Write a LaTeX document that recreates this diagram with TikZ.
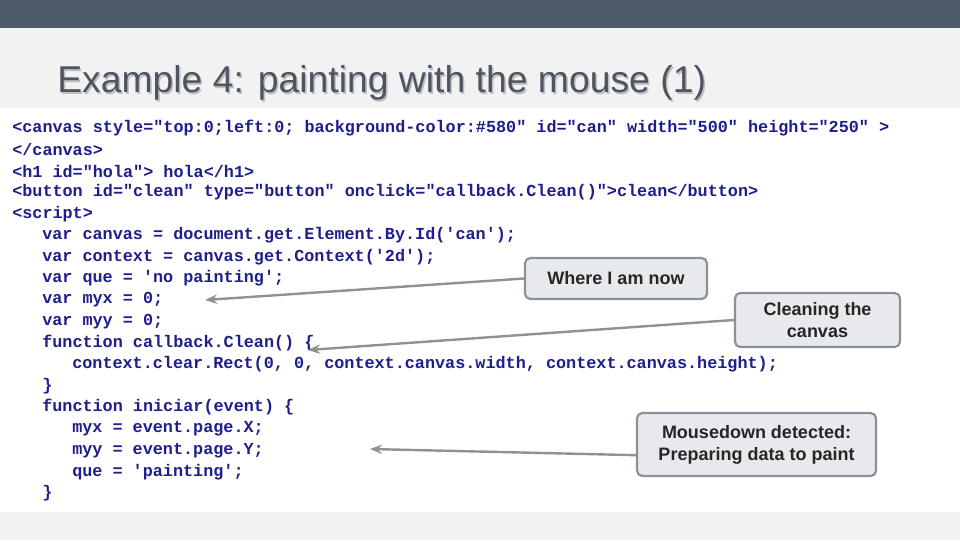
\documentclass[tikz,border=0pt]{standalone}
\usepackage{fontspec}
\setmainfont{Liberation Sans}
\newfontfamily\codefont{Liberation Mono}
\usetikzlibrary{arrows.meta}
\definecolor{barc}{HTML}{4D5A6A}
\definecolor{bgc}{HTML}{F2F2F2}
\definecolor{codec}{HTML}{1E1E8C}
\definecolor{titc}{HTML}{4D5560}
\definecolor{boxf}{HTML}{E8E9EC}
\definecolor{boxd}{HTML}{8A9099}
\definecolor{arrc}{HTML}{8C948C}
\tikzset{
  code/.style={anchor=west,inner sep=0pt,text=codec,font=\codefont\bfseries\fontsize{12.6pt}{15pt}\selectfont},
  callout/.style={draw=boxd,line width=1.6pt,fill=boxf,rounded corners=4pt,align=center,font=\bfseries\fontsize{13.5pt}{16.5pt}\selectfont,text=black!85,inner sep=0pt},
  pointer/.style={draw=arrc,line width=1.8pt,-{Stealth[length=9pt,width=7pt]}}
}
\begin{document}
\begin{tikzpicture}[x=0.75pt,y=-0.75pt]
\useasboundingbox (0,0) rectangle (960,540);
\fill[bgc] (0,0) rectangle (960,540);
\fill[barc] (0,0) rectangle (960,28);
\fill[white] (0,108) rectangle (960,512);
\node[anchor=west,inner sep=0pt,text=black!25,font=\fontsize{28pt}{32pt}\selectfont] at (58.5,84.5) {Example 4: painting with the mouse (1)};
\node[anchor=west,inner sep=0pt,text=titc,font=\fontsize{28pt}{32pt}\selectfont] (title) at (57,83) {Example 4: painting with the mouse (1)};
\node[code] (l1) at (12,128) {<canvas style="top:0;left:0; background-color:\#580" id="can" width="500" height="250" >};
\node[code] (l2) at (12,149.5) {</canvas>};
\node[code] (l3) at (12,171) {<h1 id="hola"> hola</h1>};
\node[code] (l4) at (12,192.5) {<button id="clean" type="button" onclick="callback.Clean()">clean</button>};
\node[code] (l5) at (12,214) {<script>};
\node[code] (l6) at (42,235.5) {var canvas = document.get.Element.By.Id('can');};
\node[code] (l7) at (42,257) {var context = canvas.get.Context('2d');};
\node[code] (l8) at (42,278.5) {var que = 'no painting';};
\node[code] (l9) at (42,300) {var myx = 0;};
\node[code] (l10) at (42,321.5) {var myy = 0;};
\node[code] (l11) at (42,343) {function callback.Clean() \{};
\node[code] (l12) at (72,364.5) {context.clear.Rect(0, 0, context.canvas.width, context.canvas.height);};
\node[code] (l13) at (42,386) {\}};
\node[code] (l14) at (42,407.5) {function iniciar(event) \{};
\node[code] (l15) at (72,429) {myx = event.page.X;};
\node[code] (l16) at (72,450.5) {myy = event.page.Y;};
\node[code] (l17) at (72,472) {que = 'painting';};
\node[code] (l18) at (42,493.5) {\}};
\node[callout,minimum width=182*0.75pt,minimum height=41*0.75pt] (b1) at (616,278.5) {Where I am now};
\node[callout,minimum width=165*0.75pt,minimum height=54*0.75pt] (b2) at (817.5,320) {Cleaning the\\canvas};
\node[callout,minimum width=239*0.75pt,minimum height=63*0.75pt] (b3) at (756.5,444.5) {Mousedown detected:\\Preparing data to paint};
\coordinate (t1) at (205,300);
\coordinate (t2) at (308,350);
\coordinate (t3) at (370,449);
\draw[pointer] (b1.west) -- (t1);
\draw[pointer] (b2.west) -- (t2);
\draw[pointer] ([yshift=-8pt]b3.west) -- (t3);
\end{tikzpicture}
\end{document}
